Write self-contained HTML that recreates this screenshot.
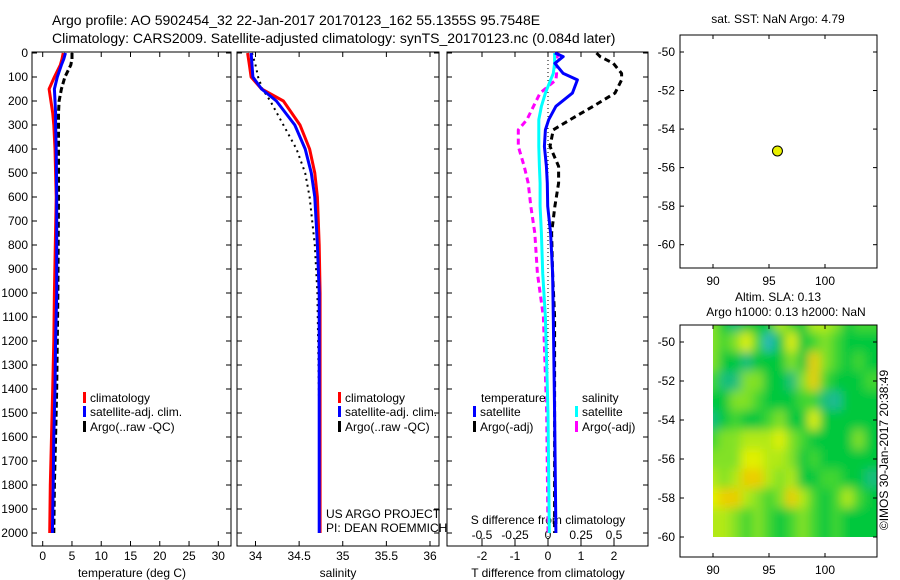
<!DOCTYPE html>
<html><head><meta charset="utf-8"><style>
body{margin:0;background:#fff}
svg{display:block;font-family:"Liberation Sans",sans-serif}
text{fill:#000}
</style></head><body>
<svg id="fig" width="900" height="580" viewBox="0 0 900 580" xmlns="http://www.w3.org/2000/svg">
<defs>
<clipPath id="hmclip"><rect x="713" y="325" width="164" height="212"/></clipPath>
<filter id="blur" filterUnits="userSpaceOnUse" x="690" y="300" width="210" height="260"><feGaussianBlur stdDeviation="5"/></filter>
</defs>
<text x="52" y="25" font-size="14">Argo profile: AO 5902454_32 22-Jan-2017 20170123_162 55.1355S 95.7548E</text>
<text x="52" y="43" font-size="14">Climatology: CARS2009. Satellite-adjusted climatology: synTS_20170123.nc (0.084d later)</text>
<g id="g"></g>
</svg>
<script>
// ---- data ----
const depthT = [0,25,50,100,150,200,250,300,400,600,1000,1200,1400,1600,1800,2000];
const tempClim = [3.5,3.3,3.0,2.0,1.1,1.4,1.7,1.9,2.1,2.3,2.0,1.9,1.7,1.5,1.3,1.2];
const tempSat = [3.9,3.6,3.2,2.5,2.0,2.1,2.2,2.2,2.3,2.4,2.4,2.2,2.1,1.9,1.8,1.65];
const tempArgo = [5.0,5.0,4.8,3.8,3.2,2.8,2.7,2.7,2.7,2.7,2.6,2.5,2.4,2.2,2.0,1.9];

const depthS = [0,50,100,150,200,300,400,500,600,800,1000,1500,2000];
const salClim = [33.91,33.93,33.95,34.07,34.32,34.51,34.62,34.68,34.71,34.73,34.74,34.74,34.74];
const salSat = [33.95,33.96,33.97,34.07,34.24,34.45,34.57,34.64,34.68,34.71,34.73,34.73,34.73];
const salArgo = [33.96,34.0,34.03,34.08,34.17,34.32,34.47,34.57,34.62,34.68,34.71,34.73,34.73];

const depthD = [0,15,43,85,112,167,222,278,320,389,472,542,638,750,917,1100,1500,2000];
const dTsat = [0.21,0.46,0.21,0.46,0.89,0.74,0.24,0.02,-0.08,-0.11,-0.05,-0.02,-0.01,0.08,0.14,0.16,0.2,0.24];
const dTargo = [1.47,1.58,1.98,2.23,2.23,2.03,1.37,0.67,0.16,0.06,0.32,0.32,0.21,0.11,0.14,0.2,0.2,0.2];
const dSsat = [0.05,0.05,0.05,0.04,0.02,-0.02,-0.05,-0.07,-0.07,-0.07,-0.065,-0.06,-0.06,-0.05,-0.04,-0.02,0.0,0.01];
const dSargo = [0.085,0.07,0.06,0.065,0.06,-0.06,-0.11,-0.16,-0.225,-0.225,-0.18,-0.15,-0.13,-0.1,-0.08,-0.035,-0.01,0.0];

const yTicks = [0,100,200,300,400,500,600,700,800,900,1000,1100,1200,1300,1400,1500,1600,1700,1800,1900,2000];
const tTicks = [0,5,10,15,20,25,30];
const sTicks = [34,34.5,35,35.5,36];
const sTickLabels = ["34","34.5","35","35.5","36"];
const dtTicks = [-2,-1,0,1,2];
const dsTicks = [-0.5,-0.25,0,0.25,0.5];
const latTicks = [-50,-52,-54,-56,-58,-60];
const lonTicks = [90,95,100];
const argoLon = [95.7548];
const argoLat = [-55.1355];

const hmLons = [90,91,92,93,94,95,96,97,98,99,100,101,102,103,104];
const hmLats = [-49,-50,-51,-52,-53,-54,-55,-56,-57,-58,-59];
const hmVals = [
[2,1,0.5,1,1,1,2.5,1.5,1,2.5,2.5,2,1,1.5,1.5],
[2,1.5,2,3,1.5,0,1,3,1,1.5,2,1.5,1,1,1],
[2,1,1,0.5,1,1,1,2,1,3.5,2,1.5,1,1.5,1],
[1.5,0.5,0.5,2,2,1,1,0.5,2,3.5,1.5,1,1,1,1.5],
[1,1,2,2,1.5,1,1,1,1.5,1.5,0.5,0.3,1,1,1],
[0.5,1,1.5,1,1,1.5,2,1,1,3,1,1,1,1,1],
[1.5,2,2,2.5,2.5,2.5,3,2,1.5,1,1,1,1,2,1],
[2,2,2,3,3,2.5,2.5,2,1,1.5,1,1,1,1,1],
[2.5,2,2.5,3.5,3.5,2.5,2,2.5,1,1,1.5,1.5,1,1,0.5],
[3,3.5,3.5,2.5,2,1.5,2,3.5,2.5,1.5,1,1.5,2.5,1.5,1],
[2.5,2.5,2,1.5,2,1.5,1,1.5,2,1.5,1,1.5,1,1,1]];

// ---- helpers ----
const NS="http://www.w3.org/2000/svg";
const G=document.getElementById('g');
function mk(tag,attrs,parent,txt){
  if(typeof parent==='string'){txt=parent;parent=null;}
  const e=document.createElementNS(NS,tag);for(const k in attrs)e.setAttribute(k,attrs[k]);if(txt!==undefined)e.textContent=txt;(parent||G).appendChild(e);return e;}
function lin(d0,d1,r0,r1){return v=>r0+(v-d0)*(r1-r0)/(d1-d0);}
const yD = lin(0,2000,53,533);
const P1={x0:32,x1:231}, P2={x0:237,x1:439}, P3={x0:447,x1:648}, TOP=52, BOT=546;
const xT = lin(0,30,42.7,218.3);
const xS = lin(34,36,255.5,430);
const xDT = lin(0,2,548,614);
const xDS = v=>xDT(v*4);

function box(P,name){
  const r=mk('rect',{x:P.x0,y:TOP,width:P.x1-P.x0,height:BOT-TOP,fill:'none',stroke:'#000','stroke-width':1});
  
  
  yTicks.forEach(v=>{const y=yD(v);
    mk('line',{x1:P.x0,x2:P.x0+5,y1:y,y2:y,stroke:'#000'});
    mk('line',{x1:P.x1,x2:P.x1-5,y1:y,y2:y,stroke:'#000'});});
}
function poly(xs,ys,xf,color,w,dash,name){
  const pts=xs.map((v,i)=>xf(v).toFixed(1)+','+yD(ys[i]).toFixed(1)).join(' ');
  const p=mk('polyline',{points:pts,fill:'none',stroke:color,'stroke-width':w,'stroke-linejoin':'round'});
  if(dash)p.setAttribute('stroke-dasharray',dash);
  
  
}
function legend(x,y,color,label,name){
  mk('rect',{x:x,y:y-10,width:3,height:11,fill:color});
  const t=mk('text',{x:x+7,y:y,'font-size':12},label);
  
  
}

// ---- panel 1 ----
box(P1,'temperature-axes');
yTicks.forEach(v=>{const t=mk('text',{x:28,y:yD(v)+4,'font-size':12,'text-anchor':'end'},String(v));
  
  });
tTicks.forEach(v=>{const x=xT(v);
  mk('line',{x1:x,x2:x,y1:TOP,y2:TOP+5,stroke:'#000'});mk('line',{x1:x,x2:x,y1:BOT,y2:BOT-5,stroke:'#000'});
  const t=mk('text',{x:x,y:560,'font-size':12,'text-anchor':'middle'},String(v));
  
  });
const xl1=mk('text',{x:132,y:577,'font-size':12,'text-anchor':'middle'},'temperature (deg C)');


poly(tempArgo,depthT,xT,'#000',3,'6,3','temp-argo-line');
poly(tempClim,depthT,xT,'#f00',3,null,'temp-climatology-line');
poly(tempSat,depthT,xT,'#00f',3,null,'temp-satellite-line');
legend(83,402,'#f00','climatology','legend-climatology');
legend(83,416,'#00f','satellite-adj. clim.','legend-satellite-adj');
legend(83,431,'#000','Argo(..raw -QC)','legend-argo');

// ---- panel 2 ----
box(P2,'salinity-axes');
sTicks.forEach((v,i)=>{const x=xS(v);
  mk('line',{x1:x,x2:x,y1:TOP,y2:TOP+5,stroke:'#000'});mk('line',{x1:x,x2:x,y1:BOT,y2:BOT-5,stroke:'#000'});
  const t=mk('text',{x:x,y:560,'font-size':12,'text-anchor':'middle'},sTickLabels[i]);
  
  });
const xl2=mk('text',{x:338,y:577,'font-size':12,'text-anchor':'middle'},'salinity');


poly(salArgo,depthS,xS,'#000',2,'2,4','sal-argo-line');
poly(salClim,depthS,xS,'#f00',3,null,'sal-climatology-line');
poly(salSat,depthS,xS,'#00f',3,null,'sal-satellite-line');
legend(338,402,'#f00','climatology','legend-climatology-2');
legend(338,416,'#00f','satellite-adj. clim.','legend-satellite-adj-2');
legend(338,431,'#000','Argo(..raw -QC)','legend-argo-2');
const pr1=mk('text',{x:326,y:518,'font-size':12},'US ARGO PROJECT');


const pr2=mk('text',{x:326,y:532,'font-size':12},'PI: DEAN ROEMMICH');



// ---- panel 3 ----
box(P3,'difference-axes');
dtTicks.forEach(v=>{const x=xDT(v);
  mk('line',{x1:x,x2:x,y1:TOP,y2:TOP+5,stroke:'#000'});mk('line',{x1:x,x2:x,y1:BOT,y2:BOT-5,stroke:'#000'});
  const t=mk('text',{x:x,y:560,'font-size':12,'text-anchor':'middle'},String(v));
  
  });
dsTicks.forEach(v=>{const x=xDS(v);
  mk('line',{x1:x,x2:x,y1:BOT-8,y2:BOT-3,stroke:'#000'});
  const t=mk('text',{x:x,y:539,'font-size':12,'text-anchor':'middle'},String(v));
  
  });
mk('line',{x1:xDT(0),x2:xDT(0),y1:TOP,y2:BOT,stroke:'#000','stroke-dasharray':'1,3'});
const xl3=mk('text',{x:548,y:577,'font-size':12,'text-anchor':'middle'},'T difference from climatology');


const xl3b=mk('text',{x:548,y:524,'font-size':12,'text-anchor':'middle'},'S difference from climatology');


poly(dSargo,depthD,xDS,'#f0f',3,'6,4','s-diff-argo-line');
poly(dTargo,depthD,xDT,'#000',3,'6,4','t-diff-argo-line');
poly(dSsat,depthD,xDS,'#0ff',3,null,'s-diff-satellite-line');
poly(dTsat,depthD,xDT,'#00f',3,null,'t-diff-satellite-line');
mk('text',{x:481,y:402,'font-size':12},'temperature');
mk('text',{x:582,y:402,'font-size':12},'salinity');
legend(473,416,'#00f','satellite','legend-t-satellite');
legend(473,431,'#000','Argo(-adj)','legend-t-argo');
legend(575,416,'#0ff','satellite','legend-s-satellite');
legend(575,431,'#f0f','Argo(-adj)','legend-s-argo');

// ---- maps ----
const M={x0:680,x1:877};
const xLon=lin(90,100,713,825);
function mapAxes(top,bot,latfn,name){
  const r=mk('rect',{x:M.x0,y:top,width:M.x1-M.x0,height:bot-top,fill:'none',stroke:'#000'});
  
  
  latTicks.forEach(v=>{const y=latfn(v);
    mk('line',{x1:M.x0,x2:M.x0+4,y1:y,y2:y,stroke:'#000'});mk('line',{x1:M.x1,x2:M.x1-4,y1:y,y2:y,stroke:'#000'});
    const t=mk('text',{x:675,y:y+4,'font-size':12,'text-anchor':'end'},String(v));
    
    });
  lonTicks.forEach(v=>{const x=xLon(v);
    mk('line',{x1:x,x2:x,y1:top,y2:top+4,stroke:'#000'});mk('line',{x1:x,x2:x,y1:bot,y2:bot-4,stroke:'#000'});
    const t=mk('text',{x:x,y:bot+17,'font-size':12,'text-anchor':'middle'},String(v));
    
    });
}
const yLat1=lin(-50,-60,52,244.7);
mapAxes(35,268,yLat1,'sst-map-axes');
const st1=mk('text',{x:778,y:23,'font-size':12,'text-anchor':'middle'},'sat. SST: NaN Argo: 4.79');


argoLon.forEach((lo,i)=>{const c=mk('circle',{cx:xLon(lo),cy:yLat1(argoLat[i]),r:5,fill:'#e8f000',stroke:'#000'});
  
  });

const yLat2=lin(-50,-60,342,537);
const stops=[[40,180,190],[0,200,60],[130,225,40],[225,240,0],[245,170,0]];
function cmap(v){const i=Math.max(0,Math.min(3,Math.floor(v)));const f=Math.max(0,Math.min(1,v-i));
  const a=stops[i],b=stops[i+1];return 'rgb('+a.map((c,k)=>Math.round(c+(b[k]-c)*f)).join(',')+')';}
const hmOuter=mk('g',{'clip-path':'url(#hmclip)'});
const hm=mk('g',{filter:'url(#blur)'},hmOuter);


const nR=hmLats.length, nC=hmLons.length;
hmLats.forEach((la,r)=>hmLons.forEach((lo,c)=>{
  let x0=xLon(lo-0.5), x1=xLon(lo+0.5), y0=yLat2(la+0.5), y1=yLat2(la-0.5);
  if(c===0)x0-=20; if(c===nC-1)x1+=20; if(r===0)y0-=20; if(r===nR-1)y1+=20;
  const cell=mk('rect',{x:x0,y:y0,width:x1-x0+0.5,height:y1-y0+0.5,fill:cmap(hmVals[r][c])},hm);
  
  
}));
mapAxes(325,557,yLat2,'sla-map-axes');
const st2=mk('text',{x:778,y:301,'font-size':12,'text-anchor':'middle'},'Altim. SLA: 0.13');


const st3=mk('text',{x:786,y:316,'font-size':12,'text-anchor':'middle'},'Argo h1000: 0.13 h2000: NaN');


const cp=mk('text',{x:0,y:0,'font-size':12,'text-anchor':'middle',transform:'translate(888,450) rotate(-90)'},'©IMOS 30-Jan-2017 20:38:49');


</script>
</body></html>
